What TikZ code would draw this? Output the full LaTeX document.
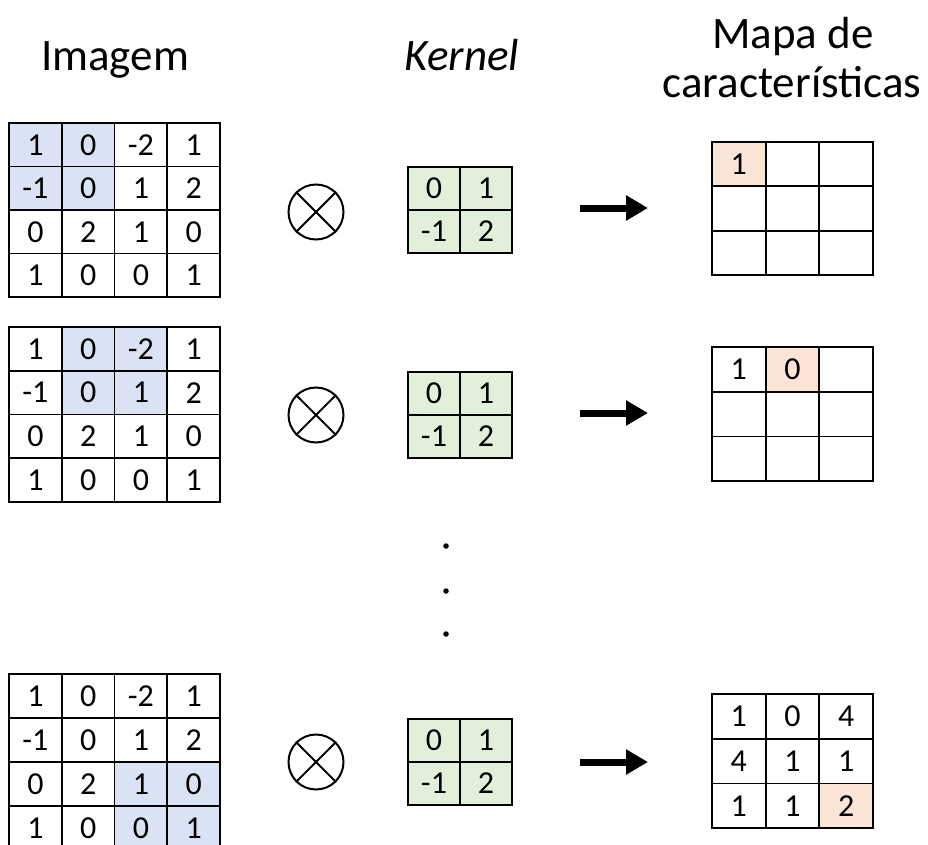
\documentclass[tikz,border=0pt]{standalone}
\usepackage{fontspec}
\setmainfont{Carlito}
\usetikzlibrary{arrows.meta}
\definecolor{hlblue}{RGB}{218,227,243}
\definecolor{hlgreen}{RGB}{226,240,217}
\definecolor{hlpeach}{RGB}{251,229,214}
\tikzset{
  cell/.style={draw=black, line width=1.8pt, rectangle, inner sep=0pt, text=black,
    font=\fontsize{32}{38}\selectfont},
  titletext/.style={font=\fontsize{45}{54}\selectfont, anchor=base, inner sep=0pt},
  otimesnode/.style={circle, draw=black, line width=2pt, minimum size=55pt, inner sep=0pt},
  xline/.style={line width=2pt},
  bigarrow/.style={line width=7pt, -{Triangle[length=22pt,width=24pt]}},
  dotmark/.style={circle, fill=black, inner sep=0pt, minimum size=5.5pt}
}
% #1 name, #2 x0, #3 y0, #4 cell w, #5 cell h, #6 entries r/c/text/fill
\newcommand\mkgrid[6]{%
  \foreach \r/\c/\t/\f in {#6}{%
    \node[cell, fill=\f, minimum width=#4pt, minimum height=#5pt]
      (#1-\r-\c) at ({#2+\c*#4+#4/2},{#3+\r*#5+#5/2}) {\t};
  }%
}
\begin{document}
\begin{tikzpicture}[x=1pt,y=-1pt]
\useasboundingbox[fill=white] (0,0) rectangle (928,845);

% titles
\node[titletext] (tImg) at (115,71) {Imagem};
\node[titletext] (tKer) at (462,71) {\itshape Kernel};
\node[titletext] (tMap1) at (793,49) {Mapa de};
\node[titletext] (tMap2) at (792,98) {características};

% ---------- row 1 ----------
\mkgrid{ga}{9}{123}{52.75}{43.5}{0/0/1/hlblue,0/1/0/hlblue,0/2/-2/white,0/3/1/white,
  1/0/-1/hlblue,1/1/0/hlblue,1/2/1/white,1/3/2/white,
  2/0/0/white,2/1/2/white,2/2/1/white,2/3/0/white,
  3/0/1/white,3/1/0/white,3/2/0/white,3/3/1/white}
\node[otimesnode] (oa) at (316,212) {};
\draw[xline] (oa.north west) -- (oa.south east) (oa.north east) -- (oa.south west);
\mkgrid{ka}{408}{167}{52}{43}{0/0/0/hlgreen,0/1/1/hlgreen,1/0/-1/hlgreen,1/1/2/hlgreen}
\coordinate (aas) at (580,208);
\coordinate (aae) at (648,208);
\draw[bigarrow] (aas) -- (aae);
\mkgrid{ma}{712}{142}{53.67}{44.3}{0/0/1/hlpeach,0/1//white,0/2//white,
  1/0//white,1/1//white,1/2//white,2/0//white,2/1//white,2/2//white}

% ---------- row 2 ----------
\mkgrid{gb}{9}{327}{52.75}{43.75}{0/0/1/white,0/1/0/hlblue,0/2/-2/hlblue,0/3/1/white,
  1/0/-1/white,1/1/0/hlblue,1/2/1/hlblue,1/3/2/white,
  2/0/0/white,2/1/2/white,2/2/1/white,2/3/0/white,
  3/0/1/white,3/1/0/white,3/2/0/white,3/3/1/white}
\node[otimesnode] (ob) at (316,415) {};
\draw[xline] (ob.north west) -- (ob.south east) (ob.north east) -- (ob.south west);
\mkgrid{kb}{408}{372}{52}{43}{0/0/0/hlgreen,0/1/1/hlgreen,1/0/-1/hlgreen,1/1/2/hlgreen}
\coordinate (abs) at (580,413);
\coordinate (abe) at (648,413);
\draw[bigarrow] (abs) -- (abe);
\mkgrid{mb}{712}{347}{53.67}{44.7}{0/0/1/white,0/1/0/hlpeach,0/2//white,
  1/0//white,1/1//white,1/2//white,2/0//white,2/1//white,2/2//white}

% ---------- dots ----------
\node[dotmark] (d1) at (446,546) {};
\node[dotmark] (d2) at (446,591) {};
\node[dotmark] (d3) at (446,634) {};

% ---------- row 3 ----------
\mkgrid{gc}{9}{674}{52.75}{44}{0/0/1/white,0/1/0/white,0/2/-2/white,0/3/1/white,
  1/0/-1/white,1/1/0/white,1/2/1/white,1/3/2/white,
  2/0/0/white,2/1/2/white,2/2/1/hlblue,2/3/0/hlblue,
  3/0/1/white,3/1/0/white,3/2/0/hlblue,3/3/1/hlblue}
\node[otimesnode] (oc) at (316,762) {};
\draw[xline] (oc.north west) -- (oc.south east) (oc.north east) -- (oc.south west);
\mkgrid{kc}{408}{719}{52}{43}{0/0/0/hlgreen,0/1/1/hlgreen,1/0/-1/hlgreen,1/1/2/hlgreen}
\coordinate (acs) at (580,762);
\coordinate (ace) at (648,762);
\draw[bigarrow] (acs) -- (ace);
\mkgrid{mc}{712}{694}{53.67}{44.7}{0/0/1/white,0/1/0/white,0/2/4/white,
  1/0/4/white,1/1/1/white,1/2/1/white,2/0/1/white,2/1/1/white,2/2/2/hlpeach}
\end{tikzpicture}
\end{document}
